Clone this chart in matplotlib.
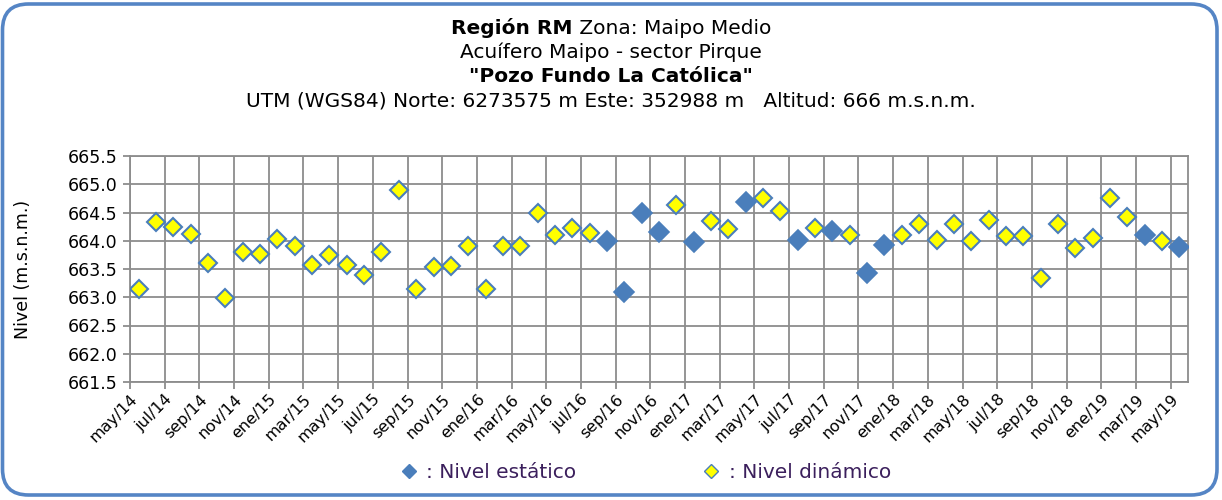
import numpy as np
import matplotlib
matplotlib.use("Agg")
import matplotlib.pyplot as plt
from matplotlib.patches import FancyBboxPatch
from matplotlib.transforms import IdentityTransform
from matplotlib.lines import Line2D

# Monthly groundwater levels, may/14 .. may/19 (61 months); None = no reading
tick_labels = [
    "may/14", "jul/14", "sep/14", "nov/14",
    "ene/15", "mar/15", "may/15", "jul/15", "sep/15", "nov/15",
    "ene/16", "mar/16", "may/16", "jul/16", "sep/16", "nov/16",
    "ene/17", "mar/17", "may/17", "jul/17", "sep/17", "nov/17",
    "ene/18", "mar/18", "may/18", "jul/18", "sep/18", "nov/18",
    "ene/19", "mar/19", "may/19",
]

nivel_estatico = [
    None, None, None, None, None, None, None, None, None, None,   # may/14 - feb/15
    None, None, None, None, None, None, None, None, None, None,   # mar/15 - dic/15
    None, None, None, None, None, None, None, 664.00, 663.09, 664.50,  # ene/16 - oct/16
    664.16, None, 663.98, None, None, 664.68, None, None, 664.02, None,  # nov/16 - ago/17
    664.17, None, 663.43, 663.92, None, None, None, None, None, None,  # sep/17 - jun/18
    None, None, None, None, None, None, None, None, 664.10, None,  # jul/18 - abr/19
    663.89,                                                        # may/19
]

nivel_dinamico = [
    663.15, 664.34, 664.25, 664.12, 663.61, 662.99, 663.80, 663.77, 664.03, 663.90,
    663.57, 663.74, 663.57, 663.40, 663.80, 664.89, 663.14, 663.54, 663.55, 663.90,
    663.15, 663.90, 663.90, 664.50, 664.10, 664.23, 664.13, None, None, None,
    None, 664.63, None, 664.35, 664.21, None, 664.76, 664.53, None, 664.23,
    None, 664.10, None, None, 664.10, 664.30, 664.01, 664.30, 664.00, 664.37,
    664.09, 664.09, 663.34, 664.30, 663.88, 664.05, 664.76, 664.42, None, 664.00,
    None,
]

BLUE = "#4A7EBB"
YELLOW = "#FFFF00"
GRID = "#8C8C8C"
BORDER = "#5585C5"
LEGEND_TXT = "#3B1F5C"

W, H = 1222, 500
fig = plt.figure(figsize=(W / 100, H / 100), dpi=100)
fig.patch.set_facecolor("white")

ax = fig.add_axes([130 / W, 118 / H, 1058 / W, 226 / H])

est = np.array([np.nan if v is None else v for v in nivel_estatico], dtype=float)
din = np.array([np.nan if v is None else v for v in nivel_dinamico], dtype=float)
n = len(din)
xpos = np.arange(n) + 0.5  # each month sits between tick marks

ax.plot(xpos, est, ls="none", marker="D", ms=10, mfc=BLUE, mec=BLUE,
        mew=1.2, zorder=3)
ax.plot(xpos, din, ls="none", marker="D", ms=9.5, mfc=YELLOW, mec=BLUE,
        mew=1.5, zorder=3)

ax.set_xlim(0, n)
ax.set_ylim(661.5, 665.5)
ax.set_yticks(np.arange(661.5, 665.51, 0.5))
ax.set_yticklabels([f"{v:.1f}" for v in np.arange(661.5, 665.51, 0.5)])
ax.set_xticks(np.arange(0, n, 2))
ax.set_xticklabels(tick_labels, rotation=45, ha="right", va="top",
                   rotation_mode="anchor")

ax.grid(True, color=GRID, lw=1.3)
ax.set_axisbelow(True)
for sp in ax.spines.values():
    sp.set_color(GRID)
    sp.set_linewidth(1.3)
ax.tick_params(axis="y", direction="out", length=5, width=1.3,
               color=GRID, labelsize=12.5, labelcolor="black", pad=4)
ax.tick_params(axis="x", direction="out", length=5, width=1.3,
               color=GRID, labelsize=11.5, labelcolor="black", pad=2)
ax.set_ylabel("Nivel (m.s.n.m.)", fontsize=12.5)
ax.yaxis.set_label_coords(-0.093, 0.5)

# Header lines
fs_title = 14.5
renderer = fig.canvas.get_renderer()
t1a = fig.text(0, 1 - 28 / H, "Región RM", fontsize=fs_title,
               fontweight="bold", va="center", ha="left")
t1b = fig.text(0, 1 - 28 / H, " Zona: Maipo Medio", fontsize=fs_title,
               va="center", ha="left")
wa = t1a.get_window_extent(renderer).width
wb = t1b.get_window_extent(renderer).width
x0 = (W / 2 - (wa + wb) / 2) / W
t1a.set_x(x0)
t1b.set_x(x0 + wa / W)
fig.text(0.5, 1 - 52 / H, "Acuífero Maipo - sector Pirque", fontsize=fs_title,
         ha="center", va="center")
fig.text(0.5, 1 - 76 / H, '"Pozo Fundo La Católica"', fontsize=fs_title,
         fontweight="bold", ha="center", va="center")
fig.text(0.5, 1 - 101 / H,
         "UTM (WGS84) Norte: 6273575 m Este: 352988 m   Altitud: 666 m.s.n.m.",
         fontsize=fs_title, ha="center", va="center")

# Legend below the axis
handles = [
    Line2D([], [], ls="none", marker="D", ms=7, mfc=BLUE, mec=BLUE, mew=1),
    Line2D([], [], ls="none", marker="D", ms=7, mfc=YELLOW, mec=BLUE, mew=1),
]
leg = fig.legend(handles, [": Nivel estático", ": Nivel dinámico"],
                 loc="center", bbox_to_anchor=(645 / W, 27 / H), ncol=2,
                 frameon=False, fontsize=14.5, handlelength=1.0,
                 handletextpad=0.35, columnspacing=6.2)
for t in leg.get_texts():
    t.set_color(LEGEND_TXT)

# Rounded outer frame
frame = FancyBboxPatch((2.5, 5), 1214.5, 491,
                       boxstyle="round,pad=0,rounding_size=26",
                       transform=IdentityTransform(), fill=False,
                       ec=BORDER, lw=2.6)
fig.add_artist(frame)

fig.savefig("out.png", dpi=100, facecolor="white")
